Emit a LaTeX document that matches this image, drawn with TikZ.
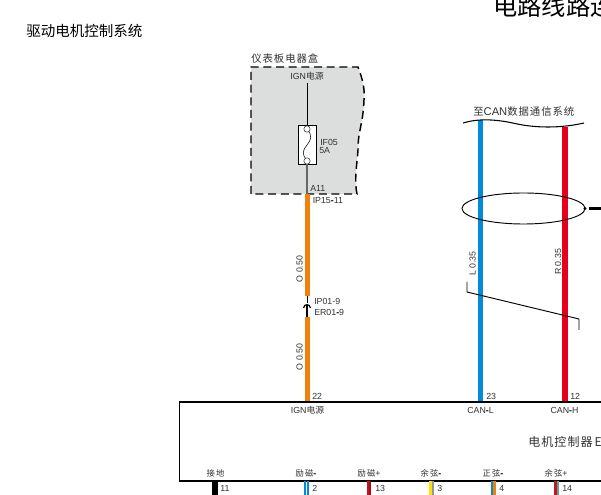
\documentclass[tikz,border=0pt]{standalone}
\usetikzlibrary{shapes.geometric}
\usepackage{fontspec}
\setmainfont{Liberation Sans}
\newfontfamily\cjk{Noto Sans CJK SC}
\newfontfamily\cjks[LetterSpace=9]{Noto Sans CJK SC}
\newfontfamily\cjkb[LetterSpace=15]{Noto Sans CJK SC}
\newcommand{\hy}{\textcolor{black}{\textbf{-}}}
\definecolor{wo}{RGB}{240,130,10}
\definecolor{wb}{RGB}{0,140,215}
\definecolor{wr}{RGB}{230,0,25}
\definecolor{wd}{RGB}{200,20,30}
\definecolor{wy}{RGB}{255,225,0}
\definecolor{wg}{RGB}{150,150,150}
\definecolor{wt}{RGB}{80,170,150}
\definecolor{boxg}{RGB}{220,221,221}
\definecolor{txt}{RGB}{50,50,50}
\tikzset{
  lab/.style={font=\fontsize{6.6pt}{7pt}\selectfont, text=txt, inner sep=0pt, anchor=west},
  labc/.style={lab, anchor=center},
  rot/.style={lab, rotate=90, anchor=center},
  wire/.style={line width=#1*0.75pt},
  wire/.default=5
}
\begin{document}
\begin{tikzpicture}[x=0.75pt,y=-0.75pt]
\useasboundingbox (0,0) rectangle (601,495);
\clip (0,0) rectangle (601,495);
\fill[white] (0,0) rectangle (601,495);
% titles
\node[inner sep=0pt,anchor=west,font=\fontsize{18.2pt}{19pt}\selectfont\cjk] (title) at (493,6) {电路线路连};
\node[inner sep=0pt,anchor=west,font=\fontsize{10.9pt}{12pt}\selectfont\cjk] (sys) at (26,31) {驱动电机控制系统};
% panel box
\fill[boxg] (251,67) -- (358,67) .. controls (363,80) and (365,90) .. (364,100) .. controls (363,125) and (358,130) .. (358,150) .. controls (357,165) and (354,180) .. (357,194) -- (251,194) -- cycle;
\draw[line width=1.1pt, dash pattern=on 6pt off 3.5pt] (251,194) -- (251,67) -- (358,67) .. controls (363,80) and (365,90) .. (364,100) .. controls (363,125) and (358,130) .. (358,150) .. controls (357,165) and (354,180) .. (357,194) -- cycle;
\node[lab,font=\fontsize{7.8pt}{8pt}\selectfont\cjks] (panel) at (251,59) {仪表板电器盒};
\node[labc] (ign) at (307,76.5) {IGN{\cjk 电源}};
% coordinates
\coordinate (igntop) at (307,83);
\coordinate (a11) at (307,194);
\coordinate (c1t) at (307,296);
\coordinate (c1b) at (307,317);
\coordinate (pin22) at (307,402);
\coordinate (canLt) at (480,120);
\coordinate (canLb) at (480,402);
\coordinate (canHt) at (565,127);
\coordinate (canHb) at (565,402);
% fuse
\node[draw=black,line width=0.7pt,fill=white,minimum width=18*0.75pt,minimum height=39*0.75pt,inner sep=0pt] (fuse) at (307,144.5) {};
\draw[line width=0.75pt] (igntop) -- (fuse.north);
\draw[line width=1.3pt,black!60] (fuse.south) -- (a11);
\draw[line width=0.4pt] (307,129) .. controls (313,136) and (311,140) .. (307,145) .. controls (303,150) and (301,154) .. (307,160);
\filldraw[fill=white,draw=black!80,line width=0.4pt] (307,129) circle (3.2);
\filldraw[fill=white,draw=black!80,line width=0.4pt] (307,161) circle (3.2);
\node[lab] (f1) at (320,142) {IF05};
\node[lab] (f2) at (319,151) {5A};
\node[lab] (a) at (310,188) {A11};
\node[lab] (ip15) at (312.5,201) {IP15\hy 11};
% orange wires
\draw[wire,wo] (a11) -- (c1t);
\draw[wire,wo] (c1b) -- (pin22);
\node[rot] (o1) at (299.5,269) {O 0.50};
\node[rot] (o2) at (299.5,357) {O 0.50};
% connector
\draw[line width=0.5pt] (c1t) -- (307,303);
\draw[line width=0.9pt] (303.5,308) .. controls (304,303.5) and (310,303.5) .. (310.5,308);
\draw[line width=1.4pt] (307,305) -- (c1b);
\node[lab] (ip01) at (314,301.5) {IP01-9};
\node[lab] (er01) at (314,312) {ER01\hy 9};
% CAN wires
\draw[wire,wb] (canLt) -- (canLb);
\draw[wire=6,wr] (canHt) -- (canHb);
\draw[line width=0.8pt] (463,123) .. controls (478,118.5) and (495,119) .. (515,123.5) .. controls (535,128) and (560,128.5) .. (584,123);
\node[lab,font=\fontsize{8.4pt}{9pt}\selectfont] (to) at (473,112) {{\fontsize{7.8pt}{9pt}\selectfont\cjks 至}CAN{\fontsize{7.8pt}{9pt}\selectfont\cjks 数据通信系统}};
% shield
\node[draw=black,line width=0.7pt,ellipse,minimum width=123*0.75pt,minimum height=31*0.75pt,inner sep=0pt] (sh) at (523.5,208.5) {};
\fill (585,208.5) circle (1.7);
\coordinate (shr) at (601,208.5);
\draw[line width=2.4pt] (589,208.5) -- (shr);
\node[rot] (l35) at (472.5,263.5) {L 0.35};
\node[rot] (r35) at (558,262) {R 0.35};
\draw[line width=0.7pt] (467,282) -- (467,292) -- (579,319) -- (579,330);
% controller
\draw[line width=1.1pt] (620,402) -- (179.5,402) -- (179.5,481) -- (620,481);
\node[lab] at (312,396) {22};
\node[lab] at (486,396) {23};
\node[lab] at (570,396) {12};
\node[labc] (pign) at (307.5,410) {IGN{\cjk 电源}};
\node[labc] (pcl) at (480.5,410) {CAN\hy L};
\node[labc] (pch) at (564.5,410) {CAN\hy H};
\node[lab,font=\fontsize{9pt}{10pt}\selectfont\cjks,anchor=west] (ctrl) at (528,442) {电机控制器\hspace{1.5pt}E};
% pin labels
\node[labc,font=\fontsize{6.2pt}{7pt}\selectfont\cjkb] (l11) at (215.5,473) {接地};
\node[labc] (l2) at (306,473) {{\fontsize{6.2pt}{7pt}\selectfont\cjkb 励磁}\hy};
\node[labc] (l13) at (369,473) {{\fontsize{6.2pt}{7pt}\selectfont\cjkb 励磁}+};
\node[labc] (l3) at (431,473) {{\fontsize{6.2pt}{7pt}\selectfont\cjkb 余弦}\hy};
\node[labc] (l4) at (493,473) {{\fontsize{6.2pt}{7pt}\selectfont\cjkb 正弦}\hy};
\node[labc] (l14) at (556,473) {{\fontsize{6.2pt}{7pt}\selectfont\cjkb 余弦}+};
% bottom wires
\draw[wire=6,black] (215,481.5) -- (215,495);
\draw[line width=1.4pt,wb] (304.8,481.5) -- (304.8,495);
\draw[line width=1.4pt,wb] (308.2,481.5) -- (308.2,495);
\draw[line width=1.6pt,wd] (367.8,481.5) -- (367.8,495);
\draw[line width=1.6pt,wd!80!black] (370.2,481.5) -- (370.2,495);
\draw[line width=1.6pt,wy] (430.5,481.5) -- (430.5,495);
\draw[line width=1.6pt,wg] (433,481.5) -- (433,495);
\draw[line width=1.6pt,wb] (492,481.5) -- (492,495);
\draw[line width=1.6pt,wo] (494.5,481.5) -- (494.5,495);
\draw[line width=1.6pt,wd] (555.5,481.5) -- (555.5,495);
\draw[line width=1.6pt,wt] (558,481.5) -- (558,495);
\node[lab] at (220,488) {11};
\node[lab] at (312,488) {2};
\node[lab] at (375,488) {13};
\node[lab] at (437,488) {3};
\node[lab] at (499,488) {4};
\node[lab] at (562,488) {14};
\end{tikzpicture}
\end{document}
